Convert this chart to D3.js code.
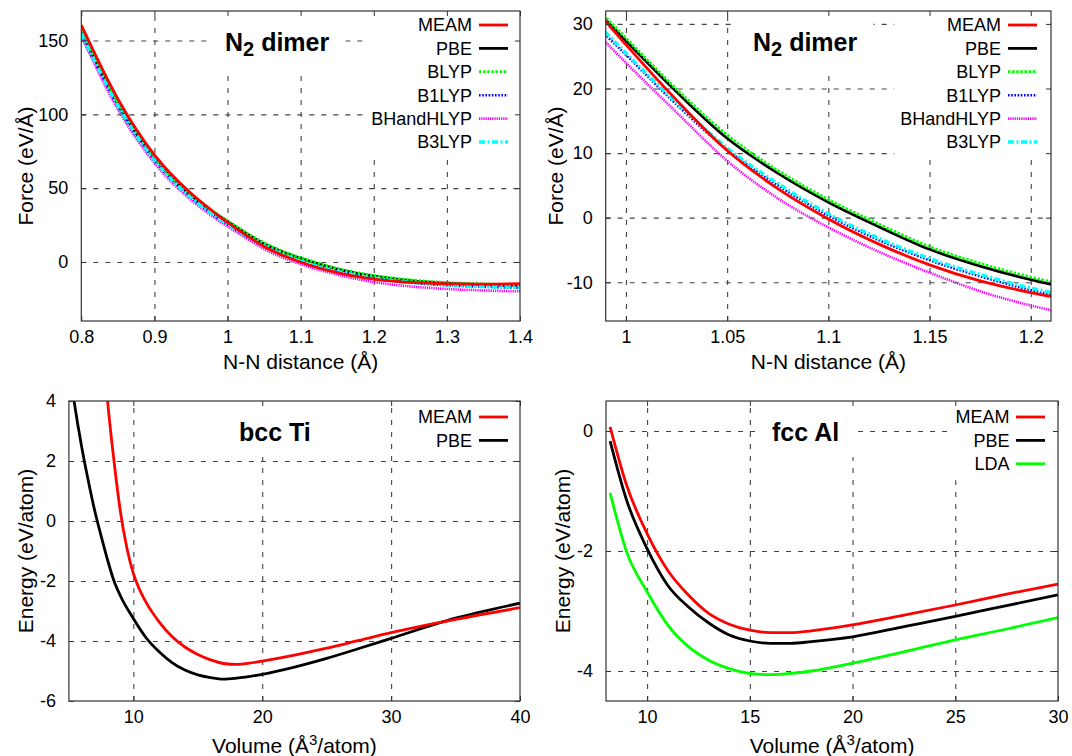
<!DOCTYPE html>
<html>
<head>
<meta charset="utf-8">
<script src="https://cdn.jsdelivr.net/npm/d3@7"></script>
<style>
  body { margin: 0; background: #fff; }
  text { font-family: "Liberation Sans", Arial, sans-serif; fill: #000; }
</style>
</head>
<body>
<svg id="chart" width="1072" height="756"></svg>
<script>
// ---- N2 dimer: force vs N-N distance (same data used in both top panels)
const nnDist        = [0.8, 0.85, 0.9, 0.95, 0.975, 0.99, 1.0, 1.025, 1.05, 1.075, 1.1, 1.125, 1.15, 1.175, 1.2, 1.225, 1.25, 1.3, 1.35, 1.4];
const forceMEAM     = [160.5, 110.5, 72.5, 46.5, 36.2, 30.4, 26.8, 18.2, 10.4, 4.5, -0.2, -4.1, -7.3, -9.8, -11.6, -13.0, -13.9, -14.8, -15.0, -14.7];
const forcePBE      = [156, 107, 70.5, 45.3, 35.8, 30.6, 27.4, 19.5, 12.3, 6.9, 2.4, -1.4, -4.9, -7.5, -9.6, -11.3, -12.6, -14.3, -15.3, -15.8];
const forceBLYP     = [157, 108, 71, 45.8, 36.2, 31.0, 27.8, 19.9, 12.8, 7.3, 2.8, -1.0, -4.5, -7.1, -9.2, -10.9, -12.2, -14.0, -15.0, -15.5];
const forceB1LYP    = [154, 105, 68.5, 43.2, 33.6, 28.3, 25.2, 17.5, 10.5, 5.0, 0.3, -3.5, -6.6, -9.1, -11.2, -12.8, -14.1, -15.9, -16.9, -17.5];
const forceBHandH   = [153, 103.5, 67, 42.0, 32.5, 27.2, 24.0, 16.3, 8.8, 3.0, -1.5, -5.3, -8.5, -11.4, -13.6, -15.3, -16.6, -18.3, -19.3, -19.9];
const forceB3LYP    = [155, 106, 69, 43.5, 34.0, 28.7, 25.5, 17.8, 10.8, 5.3, 0.6, -3.2, -6.3, -8.8, -10.9, -12.5, -13.8, -15.6, -16.6, -17.2];

// ---- bcc Ti: energy vs volume
const tiVolMEAM  = [7.8, 8, 8.5, 9, 9.5, 10, 10.5, 11, 12, 13, 14, 15, 16, 17, 18, 19, 20, 22.5, 25, 27.5, 30, 35, 40];
const tiEnMEAM   = [5.0, 4.0, 2.0, 0.3, -0.9, -1.75, -2.3, -2.72, -3.36, -3.85, -4.2, -4.45, -4.63, -4.75, -4.78, -4.74, -4.67, -4.47, -4.24, -3.98, -3.72, -3.28, -2.89];
const tiVolPBE   = [5, 5.4, 6, 6.5, 7, 7.5, 8, 8.5, 9, 10, 11, 12, 13, 14, 15, 16, 17, 18, 20, 22.5, 25, 27.5, 30, 35, 40];
const tiEnPBE    = [5.2, 4.0, 2.45, 1.35, 0.35, -0.5, -1.3, -2.0, -2.5, -3.25, -3.9, -4.36, -4.72, -4.97, -5.13, -5.22, -5.27, -5.24, -5.11, -4.87, -4.58, -4.25, -3.91, -3.24, -2.74];

// ---- fcc Al: energy vs volume
const alVolume   = [8.2, 9, 10, 11, 12, 13, 14, 15, 16, 17, 18, 20, 22.5, 25, 27.5, 30];
const alEnMEAM   = [0.07, -0.9, -1.71, -2.32, -2.73, -3.04, -3.22, -3.32, -3.36, -3.36, -3.33, -3.23, -3.07, -2.9, -2.72, -2.55];
const alEnPBE    = [-0.17, -1.15, -1.96, -2.57, -2.93, -3.2, -3.4, -3.5, -3.54, -3.54, -3.51, -3.43, -3.26, -3.09, -2.91, -2.73];
const alEnLDA    = [-1.03, -2.01, -2.68, -3.23, -3.59, -3.82, -3.96, -4.04, -4.06, -4.04, -4.0, -3.87, -3.68, -3.48, -3.3, -3.11];

// ---- tick values
const nnTicksWide  = [0.8, 0.9, 1.0, 1.1, 1.2, 1.3, 1.4];
const forceTicksWide = [0, 50, 100, 150];
const nnTicksZoom  = [1.0, 1.05, 1.1, 1.15, 1.2];
const forceTicksZoom = [-10, 0, 10, 20, 30];
const tiVolTicks   = [10, 20, 30, 40];
const tiEnTicks    = [-6, -4, -2, 0, 2, 4];
const alVolTicks   = [10, 15, 20, 25, 30];
const alEnTicks    = [-4, -2, 0];

const styles = {
  MEAM:      { color: "#ff0000", width: 2.8, dash: null },
  PBE:       { color: "#000000", width: 2.8, dash: null },
  BLYP:      { color: "#00ff00", width: 3.0, dash: "2.5,1.6" },
  B1LYP:     { color: "#0000ff", width: 2.4, dash: "1.6,1.6" },
  BHandHLYP: { color: "#ff00ff", width: 2.6, dash: "1.3,0.9" },
  B3LYP:     { color: "#00ffff", width: 3.4, dash: "6,2.5,2,2.5" },
  LDA:       { color: "#00ff00", width: 2.8, dash: null }
};

const n2Series = [
  { name: "MEAM", xs: nnDist, ys: forceMEAM },
  { name: "PBE", xs: nnDist, ys: forcePBE },
  { name: "BLYP", xs: nnDist, ys: forceBLYP },
  { name: "B1LYP", xs: nnDist, ys: forceB1LYP },
  { name: "BHandHLYP", xs: nnDist, ys: forceBHandH },
  { name: "B3LYP", xs: nnDist, ys: forceB3LYP }
];

const svg = d3.select("#chart");
const fmt = d => String(Math.round(d * 100) / 100);

function styleLine(sel, name) {
  const s = styles[name];
  sel.attr("fill", "none")
    .attr("stroke", s.color)
    .attr("stroke-width", s.width)
    .attr("stroke-dasharray", s.dash)
    .attr("stroke-linejoin", "round");
}

function panel(p) {
  const x = d3.scaleLinear().domain(p.xDomain).range([p.left, p.right]);
  const y = d3.scaleLinear().domain(p.yDomain).range([p.bottom, p.top]);
  const w = p.right - p.left, h = p.bottom - p.top;
  const g = svg.append("g");

  g.append("clipPath").attr("id", p.id)
    .append("rect").attr("x", p.left).attr("y", p.top).attr("width", w).attr("height", h);

  // dashed grid (interior ticks only)
  const inX = p.xTicks.filter(t => t > p.xDomain[0] + 1e-9 && t < p.xDomain[1] - 1e-9);
  const inY = p.yTicks.filter(t => t > p.yDomain[0] + 1e-9 && t < p.yDomain[1] - 1e-9);
  const grid = g.append("g");
  grid.append("g").attr("transform", `translate(0,${p.bottom})`)
    .call(d3.axisBottom(x).tickValues(inX).tickSize(-h).tickFormat(""));
  grid.append("g").attr("transform", `translate(${p.left},0)`)
    .call(d3.axisLeft(y).tickValues(inY).tickSize(-w).tickFormat(""));
  grid.selectAll(".domain").remove();
  grid.selectAll("line").attr("stroke", "#444").attr("stroke-width", 1.1).attr("stroke-dasharray", "5,7");

  // opaque boxes behind key and title
  const keyBox = g.append("rect").attr("fill", "#fff");
  const titleBox = g.append("rect").attr("fill", "#fff");

  // curves, MEAM drawn last so it sits on top
  const line = d3.line().x(d => x(d[0])).y(d => y(d[1])).curve(d3.curveMonotoneX);
  const curves = g.append("g").attr("clip-path", `url(#${p.id})`);
  p.series.slice(1).concat(p.series.slice(0, 1)).forEach(s => {
    curves.append("path")
      .datum(s.xs.map((v, i) => [v, s.ys[i]]))
      .attr("d", line)
      .call(styleLine, s.name);
  });

  // frame with inward ticks on all sides
  const axes = g.append("g");
  axes.append("g").attr("transform", `translate(0,${p.bottom})`)
    .call(d3.axisBottom(x).tickValues(p.xTicks).tickSize(-5).tickPadding(9).tickFormat(fmt));
  axes.append("g").attr("transform", `translate(0,${p.top})`)
    .call(d3.axisTop(x).tickValues(p.xTicks).tickSize(-5).tickFormat(""));
  axes.append("g").attr("transform", `translate(${p.left},0)`)
    .call(d3.axisLeft(y).tickValues(p.yTicks).tickSize(-5).tickPadding(13).tickFormat(fmt));
  axes.append("g").attr("transform", `translate(${p.right},0)`)
    .call(d3.axisRight(y).tickValues(p.yTicks).tickSize(-5).tickFormat(""));
  axes.selectAll(".domain").remove();
  axes.selectAll("line").attr("stroke", "#333").attr("stroke-width", 1);
  axes.selectAll("g").attr("font-family", null).attr("font-size", null);
  axes.selectAll("text").style("font-size", "18px").attr("fill", "#000");
  g.append("rect").attr("x", p.left).attr("y", p.top).attr("width", w).attr("height", h)
    .attr("fill", "none").attr("stroke", "#333").attr("stroke-width", 1.2);

  // key
  const key = g.append("g");
  p.series.forEach((s, i) => {
    const ly = p.key.y0 + i * p.key.dy;
    key.append("text").attr("x", p.key.textRight).attr("y", ly).attr("dy", "0.36em")
      .attr("text-anchor", "end").style("font-size", "18px").text(s.name);
    key.append("line").attr("x1", p.key.x1).attr("x2", p.key.x2).attr("y1", ly).attr("y2", ly)
      .call(styleLine, s.name);
  });
  const kb = key.node().getBBox();
  keyBox.attr("x", kb.x - 6).attr("y", p.top + 2).attr("width", p.right - kb.x + 5)
    .attr("height", kb.y + kb.height + 4 - p.top);

  // title
  const t = g.append("text").attr("x", p.title.x).attr("y", p.title.y)
    .style("font-size", "25px").style("font-weight", "bold");
  if (p.title.sub) {
    t.append("tspan").text(p.title.text);
    t.append("tspan").attr("dy", 5).style("font-size", "20px").text(p.title.sub);
    t.append("tspan").attr("dy", -5).text(p.title.rest);
  } else {
    t.text(p.title.text);
  }
  const tb = t.node().getBBox();
  titleBox.attr("x", tb.x - 16).attr("y", p.top + 3).attr("width", tb.width + 32)
    .attr("height", tb.y + tb.height + 8 - p.top);

  // axis titles
  const xl = g.append("text").attr("x", (p.left + p.right) / 2).attr("y", p.xLabelY)
    .attr("text-anchor", "middle").style("font-size", "21px");
  p.xLabel(xl);
  g.append("text")
    .attr("transform", `translate(${p.yLabelX},${(p.top + p.bottom) / 2}) rotate(-90)`)
    .attr("text-anchor", "middle").style("font-size", "21px").text(p.yLabel);
}

const volLabel = sel => {
  sel.append("tspan").text("Volume (Å");
  sel.append("tspan").attr("dy", -8).style("font-size", "15px").text("3");
  sel.append("tspan").attr("dy", 8).text("/atom)");
};
const distLabel = sel => sel.text("N-N distance (Å)");

panel({
  id: "clipA", left: 81.3, right: 520, top: 11, bottom: 321,
  xDomain: [0.8, 1.4], yDomain: [-40, 170], xTicks: nnTicksWide, yTicks: forceTicksWide,
  series: n2Series,
  key: { textRight: 472, x1: 479, x2: 508, y0: 25, dy: 23.4 },
  title: { x: 225, y: 50.5, text: "N", sub: "2", rest: " dimer" },
  xLabel: distLabel, xLabelY: 369, yLabel: "Force (eV/Å)", yLabelX: 33
});

panel({
  id: "clipB", left: 605.7, right: 1051, top: 11, bottom: 321,
  xDomain: [0.99, 1.21], yDomain: [-16, 32], xTicks: nnTicksZoom, yTicks: forceTicksZoom,
  series: n2Series,
  key: { textRight: 1001, x1: 1008, x2: 1037, y0: 25, dy: 23.4 },
  title: { x: 753, y: 50.5, text: "N", sub: "2", rest: " dimer" },
  xLabel: distLabel, xLabelY: 369, yLabel: "Force (eV/Å)", yLabelX: 563
});

panel({
  id: "clipC", left: 68.9, right: 520, top: 401, bottom: 701,
  xDomain: [5, 40], yDomain: [-6, 4], xTicks: tiVolTicks, yTicks: tiEnTicks,
  series: [
    { name: "MEAM", xs: tiVolMEAM, ys: tiEnMEAM },
    { name: "PBE", xs: tiVolPBE, ys: tiEnPBE }
  ],
  key: { textRight: 472, x1: 479, x2: 508, y0: 417, dy: 23.4 },
  title: { x: 239, y: 441, text: "bcc Ti" },
  xLabel: volLabel, xLabelY: 753, yLabel: "Energy (eV/atom)", yLabelX: 33
});

panel({
  id: "clipD", left: 606, right: 1058, top: 401, bottom: 701,
  xDomain: [8, 30], yDomain: [-4.5, 0.5], xTicks: alVolTicks, yTicks: alEnTicks,
  series: [
    { name: "MEAM", xs: alVolume, ys: alEnMEAM },
    { name: "PBE", xs: alVolume, ys: alEnPBE },
    { name: "LDA", xs: alVolume, ys: alEnLDA }
  ],
  key: { textRight: 1009.5, x1: 1016, x2: 1045, y0: 417, dy: 23.4 },
  title: { x: 772, y: 441, text: "fcc Al" },
  xLabel: volLabel, xLabelY: 753, yLabel: "Energy (eV/atom)", yLabelX: 570
});
</script>
</body>
</html>
